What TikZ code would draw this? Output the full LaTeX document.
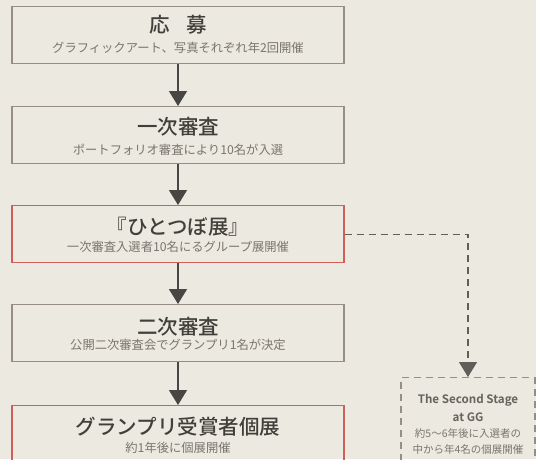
\documentclass[tikz,border=0pt]{standalone}
\usepackage{fontspec}
\setmainfont{Noto Sans CJK JP}[BoldFont={Noto Sans CJK JP Medium}]
\newfontfamily\heavyfont{Noto Sans CJK JP Bold}
\usetikzlibrary{arrows.meta}
\definecolor{bg}{RGB}{236,233,224}
\definecolor{boxline}{RGB}{150,141,132}
\definecolor{redline}{RGB}{206,96,86}
\definecolor{titlec}{RGB}{66,62,58}
\definecolor{subc}{RGB}{122,117,110}
\definecolor{arrowc}{RGB}{72,70,66}
\begin{document}
\begin{tikzpicture}[x=1pt,y=-1pt,
  box/.style={draw=boxline,line width=1.4pt,minimum width=332pt,minimum height=57pt,inner sep=0pt,anchor=north},
  redbox/.style={box,draw=redline},
  dbox/.style={draw=boxline,line width=1.2pt,dash pattern=on 7pt off 5pt,minimum width=134pt,minimum height=100pt,inner sep=0pt,anchor=north},
  ttl/.style={text=titlec,font=\fontsize{20.5}{22}\selectfont\bfseries,inner sep=0pt},
  sub/.style={text=subc,font=\fontsize{12.3}{14}\selectfont,inner sep=0pt},
  dtxt/.style={text=subc,font=\fontsize{10.5}{12}\selectfont,inner sep=0pt},
  dtitle/.style={dtxt,text=subc!85!black,font=\fontsize{11.6}{13}\selectfont\heavyfont},
  arr/.style={draw=arrowc,line width=1.5pt,-{Triangle[width=18pt,length=15pt]}},
  darr/.style={draw=arrowc!85!bg,line width=1.3pt,dash pattern=on 7pt off 5pt,-{Triangle[width=18pt,length=15pt]}}
]
\fill[bg] (0,0) rectangle (536,459);
\useasboundingbox (0,0) rectangle (536,459);
\clip (0,0) rectangle (536,459);

\node[box] (b1) at (178,6) {};
\node[ttl] (t1) at (178,25) {応\hspace{0.8em}募};
\node[sub] (s1) at (178,48) {グラフィックアート、写真それぞれ年2回開催};

\node[box] (b2) at (178,106) {};
\node[ttl] (t2) at (178,127) {一次審査};
\node[sub] (s2) at (178,150) {ポートフォリオ審査により10名が入選};

\node[redbox] (b3) at (178,205) {};
\node[ttl] (t3) at (178,227) {『ひとつぼ展』};
\node[sub] (s3) at (178,247) {一次審査入選者10名にるグループ展開催};

\node[box] (b4) at (178,304) {};
\node[ttl] (t4) at (178,327) {二次審査};
\node[sub] (s4) at (178,345) {公開二次審査会でグランプリ1名が決定};

\node[redbox] (b5) at (178,405) {};
\node[ttl] (t5) at (178,427) {グランプリ受賞者個展};
\node[sub] (s5) at (178,448) {約1年後に個展開催};

\node[dbox] (d) at (468,377) {};
\node[dtitle] (d1) at (468,400) {The Second Stage};
\node[dtitle] (d2) at (468,417) {at GG};
\node[dtxt] (d3) at (468,433) {約5～6年後に入選者の};
\node[dtxt] (d4) at (468,449) {中から年4名の個展開催};

\draw[arr] (b1.south) -- (b2.north);
\draw[arr] (b2.south) -- (b3.north);
\draw[arr] (b3.south) -- (b4.north);
\draw[arr] (b4.south) -- (b5.north);
\draw[darr] (b3.east) -| (d.north);
\end{tikzpicture}
\end{document}
